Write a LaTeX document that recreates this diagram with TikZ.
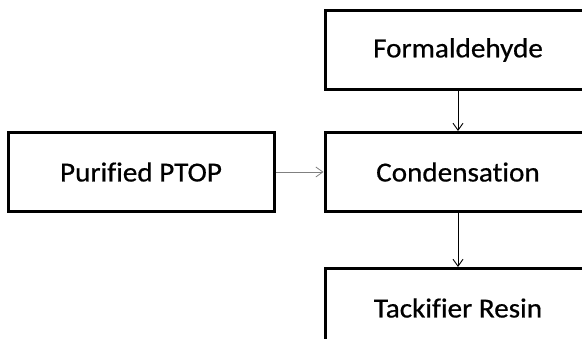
\documentclass[tikz,border=0pt]{standalone}
\usepackage{fontspec}
\setmainfont[Ligatures=NoCommon, FakeStretch=1.06, FakeBold=0.6]{Carlito}
\usetikzlibrary{arrows.meta, positioning, math}
\tikzset{
  stage/.style={draw, line width=3pt, minimum width=266pt, minimum height=79pt,
    inner sep=0pt, font=\fontsize{27.5}{32}\selectfont},
  flow/.style={-{Straight Barb[length=7pt,width=10pt]}, line width=0.9pt}
}

\begin{document}
\begin{tikzpicture}[x=1pt,y=1pt]
\tikzmath{
\W=582;
\H=339;
}
\useasboundingbox (0,0) rectangle (\W,-\H);
\clip (0,0) rectangle (\W,-\H);

\node[stage] (cond) at (458,-172) {Condensation};
\node[stage, above=40pt of cond] (form) {Formaldehyde};
\node[stage, left=48pt of cond] (ptop) {Purified PTOP};
\node[stage, below=54pt of cond] (resin) {Tackifier Resin};

\draw[flow] (form) -- (cond);
\draw[flow, gray, line width=0.8pt] (ptop) -- (cond);
\draw[flow] (cond) -- (resin);
\end{tikzpicture}
\end{document}
